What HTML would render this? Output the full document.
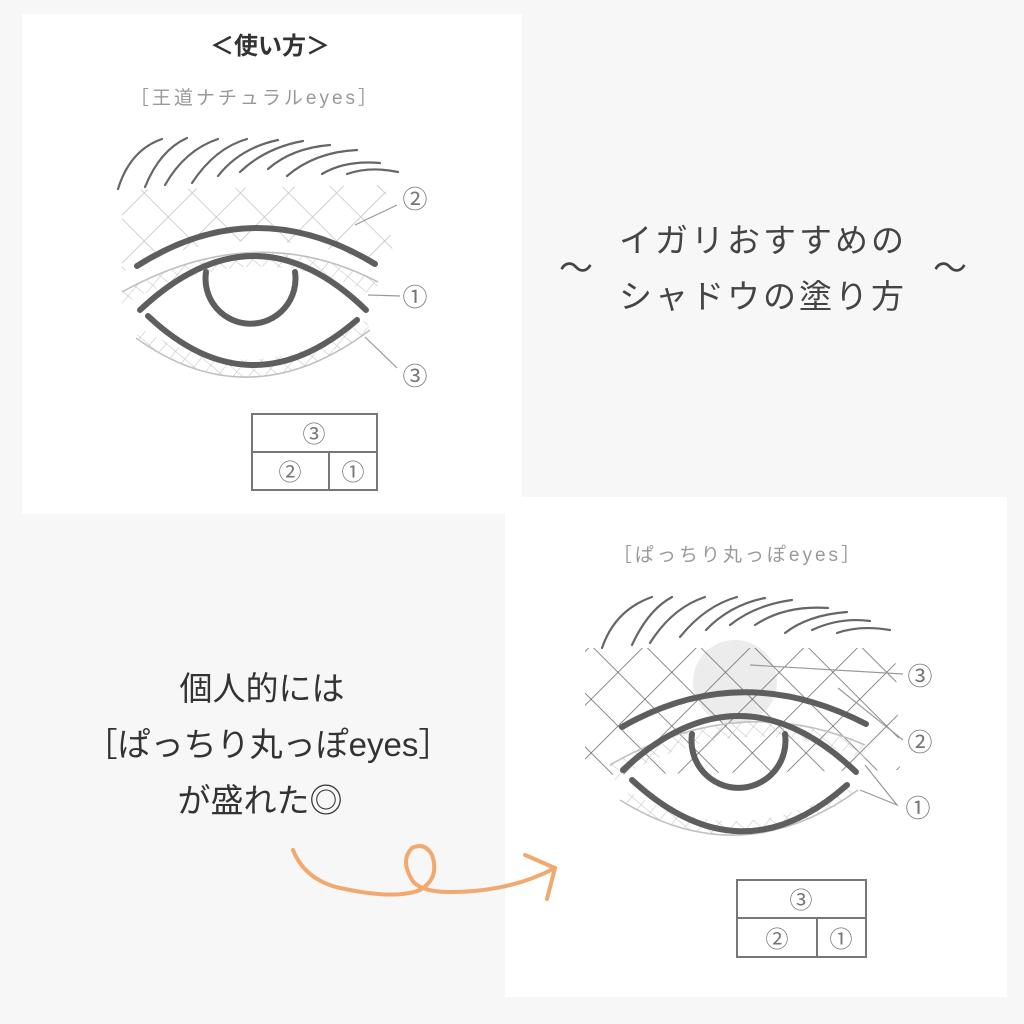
<!DOCTYPE html>
<html><head><meta charset="utf-8"><style>
html,body{margin:0;padding:0;background:#f7f7f7;}
svg{display:block}
text{font-family:"Liberation Sans","Noto Sans CJK JP",sans-serif;}
</style></head><body>
<svg width="1024" height="1024" viewBox="0 0 1024 1024" xmlns="http://www.w3.org/2000/svg">
<defs>
<pattern id="hl" width="34" height="34" patternUnits="userSpaceOnUse" patternTransform="rotate(45)">
<line x1="0" y1="0" x2="0" y2="34" stroke="#c4c4c4" stroke-width="1.6"/>
<line x1="0" y1="0" x2="34" y2="0" stroke="#c4c4c4" stroke-width="1.6"/>
</pattern>
<pattern id="hd" width="38" height="38" patternUnits="userSpaceOnUse" patternTransform="rotate(45)">
<line x1="0" y1="0" x2="0" y2="38" stroke="#555" stroke-width="1.5"/>
<line x1="0" y1="0" x2="38" y2="0" stroke="#555" stroke-width="1.5"/>
</pattern>
<pattern id="hs" width="12" height="12" patternUnits="userSpaceOnUse" patternTransform="rotate(40)">
<line x1="0" y1="0" x2="0" y2="12" stroke="#c8c8c8" stroke-width="1.2"/>
<line x1="0" y1="0" x2="12" y2="0" stroke="#c8c8c8" stroke-width="1.2"/>
</pattern>
</defs>
<rect x="22" y="14" width="500" height="500" fill="#fff"/>
<rect x="505" y="497" width="502" height="500" fill="#fff"/>

<!-- Top panel -->
<text x="270" y="54" font-size="24" font-weight="bold" fill="#333" text-anchor="middle">＜使い方＞</text>
<text x="255" y="104" font-size="19" fill="#999" text-anchor="middle" letter-spacing="3">［王道ナチュラルeyes］</text>
<g fill="none" stroke="#666" stroke-width="2.2" stroke-linecap="round">
<path d="M118,189 Q130,150 162,139"/>
<path d="M145,187 Q160,150 187,138"/>
<path d="M165,185 Q185,150 218,139"/>
<path d="M192,183 Q215,148 247,139"/>
<path d="M218,176 Q240,148 278,140"/>
<path d="M240,172 Q265,148 303,141"/>
<path d="M268,169 Q292,148 330,145"/>
<path d="M287,176 Q315,152 357,150"/>
<path d="M322,174 Q345,160 380,163"/>
<path d="M347,174 Q370,166 398,172"/>
</g>
<path d="M122,190 L385,185 L395,272 Q255,210 122,272 Z" fill="url(#hl)"/>
<path d="M122,292 Q255,218 378,282 L378,298 Q255,232 122,305 Z" fill="url(#hs)"/>
<path d="M136,338 Q250,420 370,330 L366,320 Q250,395 140,328 Z" fill="url(#hs)"/>
<g fill="none" stroke="#c0c0c0" stroke-width="1.6">
<path d="M122,292 Q255,218 378,282"/>
<path d="M136,338 Q250,420 370,330"/>
</g>
<g fill="none" stroke="#5e5e5e" stroke-width="6" stroke-linecap="round">
<path d="M137,266 Q255,191 375,264"/>
<path d="M140,310 Q255,202 366,310"/>
<path d="M206,272 A45,45 0 1 0 295,272"/>
<path d="M148,316 Q250,412 357,320"/>
</g>
<g stroke="#999" stroke-width="1.2">
<line x1="355" y1="225" x2="397" y2="205"/>
<line x1="368" y1="295" x2="400" y2="296"/>
<line x1="365" y1="337" x2="397" y2="368"/>
</g>
<g font-size="25" fill="#777" text-anchor="middle">
<text x="415" y="208">②</text><text x="415" y="306">①</text><text x="415" y="385">③</text>
</g>
<g fill="none" stroke="#777" stroke-width="2">
<rect x="252" y="414" width="125" height="76"/>
<line x1="252" y1="452" x2="377" y2="452"/>
<line x1="329" y1="452" x2="329" y2="490"/>
</g>
<g font-size="23" fill="#777" text-anchor="middle">
<text x="314" y="442">③</text><text x="290" y="480">②</text><text x="353" y="480">①</text>
</g>

<!-- right text -->
<g font-size="33" fill="#444" text-anchor="middle">
<text x="763" y="252" letter-spacing="3">イガリおすすめの</text>
<text x="763" y="308" letter-spacing="3">シャドウの塗り方</text>
</g>
<g font-size="34" fill="#444" text-anchor="middle">
<text x="576" y="280">〜</text>
<text x="950" y="280">〜</text>
</g>

<!-- bottom-left text -->
<g font-size="33" fill="#333" text-anchor="middle">
<text x="262" y="700">個人的には</text>
<text x="268" y="756">［ぱっちり丸っぽeyes］</text>
<text x="260" y="812">が盛れた◎</text>
</g>

<!-- orange arrow -->
<g fill="none" stroke="#f0a060" stroke-width="4" stroke-linecap="round" stroke-linejoin="round" opacity="0.9">
<path d="M293,850 Q305,880 340,888 Q395,900 420,890 Q440,878 432,855 Q425,842 412,848 Q400,860 412,880 Q420,892 450,892 Q510,892 555,868"/>
<path d="M525,855 L555,868 L547,899"/>
</g>

<!-- Bottom panel -->
<text x="738" y="561" font-size="19" fill="#999" text-anchor="middle" letter-spacing="3">［ぱっちり丸っぽeyes］</text>
<g fill="none" stroke="#666" stroke-width="2.2" stroke-linecap="round">
<path d="M602,648 Q615,610 652,597"/>
<path d="M632,645 Q648,610 672,597"/>
<path d="M650,643 Q672,608 705,597"/>
<path d="M680,637 Q705,606 737,597"/>
<path d="M706,630 Q730,605 765,598"/>
<path d="M730,625 Q755,605 792,600"/>
<path d="M755,625 Q785,605 828,608"/>
<path d="M785,633 Q808,615 847,612"/>
<path d="M812,630 Q840,617 870,621"/>
<path d="M837,633 Q860,625 890,630"/>
</g>
<circle cx="735" cy="682" r="42" fill="#ececec"/>
<path d="M585,648 L895,648 L900,770 L585,775 Z" fill="url(#hd)" opacity="0.9"/>
<path d="M610,765 Q740,690 865,745 L865,760 Q740,705 615,780 Z" fill="url(#hs)"/>
<path d="M620,800 Q740,875 858,790 L855,782 Q740,855 630,792 Z" fill="url(#hs)"/>
<g fill="none" stroke="#c0c0c0" stroke-width="1.6">
<path d="M610,765 Q740,690 865,745"/>
<path d="M620,800 Q740,875 858,790"/>
</g>
<g fill="none" stroke="#5e5e5e" stroke-width="6" stroke-linecap="round">
<path d="M622,727 Q740,659 866,724"/>
<path d="M623,770 Q740,661 856,772"/>
<path d="M692,734 A47,47 0 1 0 785,734"/>
<path d="M632,780 Q740,880 847,785"/>
</g>
<g stroke="#999" stroke-width="1.2" fill="none">
<line x1="750" y1="665" x2="903" y2="674"/>
<line x1="838" y1="688" x2="903" y2="740"/>
<polyline points="865,765 897,805 860,790"/>
</g>
<g font-size="25" fill="#777" text-anchor="middle">
<text x="920" y="685">③</text><text x="920" y="751">②</text><text x="918" y="817">①</text>
</g>
<g fill="none" stroke="#777" stroke-width="2">
<rect x="737" y="880" width="129" height="77"/>
<line x1="737" y1="918" x2="866" y2="918"/>
<line x1="817" y1="918" x2="817" y2="957"/>
</g>
<g font-size="23" fill="#777" text-anchor="middle">
<text x="801" y="908">③</text><text x="777" y="947">②</text><text x="841" y="947">①</text>
</g>
</svg>
</body></html>
